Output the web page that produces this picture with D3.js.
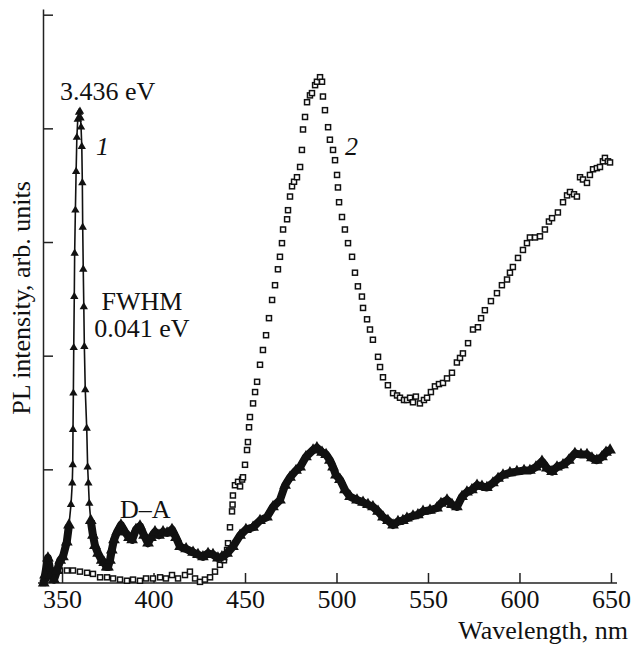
<!DOCTYPE html>
<html>
<head>
<meta charset="utf-8">
<script src="https://cdn.jsdelivr.net/npm/d3@7"></script>
<style>
  body { margin: 0; background: #fff; }
  text { font-family: "Liberation Serif", "Times New Roman", serif; fill: #111; }
</style>
</head>
<body>
<div id="chart"></div>
<script>
const width = 632, height = 645;
const margin = { top: 9, right: 15, bottom: 62, left: 43 };

// curve 1: wavelength (nm) and PL intensity (arb. units), triangles
const wl1 = [340, 340.7, 342.3, 344, 345.6, 347.3, 349, 350.5, 352.6, 353.8, 354.9, 355.6,
  355.85, 356.0, 356.2, 356.4, 356.7, 356.9, 357.3, 357.7, 358.1, 358.6, 359.3, 359.8, 360.1,
  360.4, 360.8, 361.1, 361.3, 361.6, 361.9, 362.2, 362.7, 363.5, 364.0,
  364.4, 364.9, 365.7, 366.9, 368.0, 369.7, 371.7, 373.0, 374.4, 375.1, 376.2, 377.2, 378.4,
  380.1, 382.2, 384.4, 386.6, 388.3, 390.4, 392.6, 394.8, 397.0, 398.6, 400.8, 403.0, 405.2,
  407.4, 410.1, 412.3, 414.5, 417.8, 421.6, 424.3, 427.0, 429.8, 432.5, 435.2, 437.4, 440.2,
  443.4, 447.3, 450.5, 454.4, 458.2, 462.0, 465.3, 469.1, 471.9, 474.6, 477.9, 480.1, 483.3,
  487.2, 489.3, 492.1, 494.3, 496.4, 498.1, 499.7, 501.9, 504.6, 507.4, 511.2, 514.5, 517.2,
  519.9, 522.7, 525.4, 528.1, 530.9, 533.6, 536.3, 538.5, 541.8, 544.5, 547.3, 551.1, 554.9,
  557.1, 560.4, 563.1, 565.8, 568.6, 571.3, 574.0, 576.8, 579.5, 582.2, 585.5, 588.3, 591.0,
  594.8, 598.6, 602.5, 605.7, 609.0, 612.3, 615.0, 617.8, 620.5, 623.8, 627.0, 630.3, 633.6,
  636.9, 639.6, 642.3, 645.1, 647.3, 649.5];
const pl1 = [0.00, 0.07, 0.22, 0.07, 0.03, 0.11, 0.20, 0.23, 0.36, 0.51, 0.69, 0.88,
  1.04, 1.35, 1.67, 2.07, 2.52, 2.90, 3.28, 3.62, 3.92, 4.08, 4.14, 4.15, 4.09,
  4.01, 3.84, 3.52, 3.13, 2.76, 2.43, 2.08, 1.70, 1.36, 1.02,
  0.88, 0.70, 0.55, 0.42, 0.33, 0.26, 0.20, 0.18, 0.14, 0.14, 0.20, 0.29, 0.38,
  0.45, 0.51, 0.45, 0.40, 0.38, 0.47, 0.50, 0.42, 0.35, 0.40, 0.45, 0.42, 0.45,
  0.44, 0.47, 0.40, 0.32, 0.30, 0.27, 0.25, 0.23, 0.26, 0.25, 0.22, 0.23, 0.26,
  0.32, 0.42, 0.47, 0.49, 0.55, 0.58, 0.67, 0.73, 0.86, 0.93, 0.99, 1.02, 1.11,
  1.17, 1.19, 1.15, 1.13, 1.08, 1.02, 0.95, 0.91, 0.82, 0.76, 0.73, 0.71, 0.69,
  0.67, 0.63, 0.58, 0.55, 0.51, 0.54, 0.55, 0.57, 0.59, 0.60, 0.63, 0.64, 0.66,
  0.70, 0.73, 0.69, 0.67, 0.76, 0.80, 0.82, 0.86, 0.85, 0.84, 0.88, 0.92, 0.95,
  0.97, 0.98, 0.99, 0.99, 1.02, 1.07, 1.01, 0.98, 1.02, 1.04, 1.08, 1.14, 1.13,
  1.13, 1.10, 1.08, 1.11, 1.15, 1.17];

// curve 2: open squares
const wl2 = [339.6, 341.3, 343.4, 346.2, 348.9, 352.7, 356.0, 359.8, 363.7, 366.9, 370.8,
  374.6, 377.9, 381.7, 385.5, 388.8, 392.6, 395.9, 399.7, 403.6, 406.8, 410.1, 413.4, 417.2,
  419.9, 422.7, 425.4, 428.1, 430.9, 433.6, 436.3, 438.5, 440.2, 440.7, 441.8, 442.9, 443.2,
  443.4, 444.5, 446.2, 447.3, 448.4, 448.9, 450.0, 451.1, 451.6, 452.2, 452.7, 454.4, 455.5,
  456.6, 458.2, 459.8, 461.5, 463.1, 464.8, 466.4, 468.0, 469.1, 470.2, 470.8, 473.0, 473.5,
  474.6, 475.7, 476.8, 478.4, 480.1, 481.1, 481.7, 482.8, 483.9, 485.5, 486.6, 488.3, 489.3,
  491.0, 492.1, 492.6, 493.7, 495.4, 496.4, 498.1, 499.2, 500.3, 500.8, 501.4, 503.0, 504.6,
  506.3, 508.5, 510.1, 511.7, 513.9, 514.5, 516.7, 518.3, 519.9, 522.7, 523.8, 525.4, 528.1,
  530.9, 533.1, 534.7, 536.9, 538.5, 540.2, 541.8, 543.4, 545.6, 547.8, 549.5, 551.6, 553.8,
  556.0, 558.2, 560.4, 563.1, 565.8, 567.5, 569.1, 571.9, 574.6, 577.3, 579.0, 581.1, 584.4,
  587.7, 590.4, 593.2, 594.8, 596.4, 599.2, 601.9, 604.1, 605.7, 608.5, 611.2, 613.9, 616.1,
  617.8, 621.0, 623.8, 626.0, 627.6, 629.8, 631.4, 633.1, 634.7, 636.9, 638.5, 640.2, 642.3,
  644.0, 645.6, 646.7, 648.4, 649.5];
const pl2 = [0.00, 0.04, 0.08, 0.10, 0.11, 0.11, 0.11, 0.10, 0.09, 0.08, 0.05,
  0.05, 0.04, 0.03, 0.02, 0.03, 0.02, 0.04, 0.04, 0.05, 0.04, 0.07, 0.04, 0.07,
  0.10, 0.04, 0.01, 0.03, 0.05, 0.10, 0.16, 0.20, 0.29, 0.35, 0.49, 0.63, 0.69,
  0.77, 0.86, 0.89, 0.85, 0.91, 0.93, 1.04, 1.17, 1.24, 1.37, 1.46, 1.58, 1.68,
  1.77, 1.92, 2.05, 2.18, 2.33, 2.49, 2.62, 2.76, 2.87, 2.99, 3.11, 3.20, 3.28,
  3.40, 3.49, 3.53, 3.57, 3.66, 3.81, 3.99, 4.10, 4.23, 4.29, 4.31, 4.38, 4.41,
  4.45, 4.41, 4.28, 4.16, 4.01, 3.90, 3.81, 3.72, 3.59, 3.48, 3.35, 3.22, 3.11,
  2.99, 2.87, 2.73, 2.61, 2.52, 2.42, 2.32, 2.23, 2.14, 1.99, 1.90, 1.81, 1.74,
  1.67, 1.65, 1.63, 1.61, 1.61, 1.63, 1.59, 1.64, 1.58, 1.61, 1.63, 1.68, 1.73,
  1.75, 1.76, 1.80, 1.85, 1.94, 1.98, 2.02, 2.11, 2.23, 2.25, 2.33, 2.40, 2.48,
  2.55, 2.62, 2.67, 2.73, 2.78, 2.86, 2.93, 2.99, 3.04, 3.04, 3.05, 3.11, 3.18,
  3.21, 3.26, 3.35, 3.41, 3.44, 3.42, 3.40, 3.57, 3.55, 3.52, 3.59, 3.64, 3.65,
  3.66, 3.71, 3.74, 3.71, 3.70];

const xTicks = [350, 400, 450, 500, 550, 600, 650];
const yTicks = [1, 2, 3, 4, 5];

const svg = d3.select("#chart").append("svg")
  .attr("width", width)
  .attr("height", height);

const x = d3.scaleLinear()
  .domain([339.6, 653.3])
  .range([margin.left, width - margin.right]);

const y = d3.scaleLinear()
  .domain([0, 5.05])
  .range([height - margin.bottom, margin.top]);

// axes, ticks pointing inward
const xAxis = svg.append("g")
  .attr("transform", `translate(0,${height - margin.bottom})`)
  .call(d3.axisBottom(x).tickValues(xTicks).tickSizeInner(-10).tickSizeOuter(0).tickPadding(7))
xAxis.selectAll("text").style("font-size", "26px").style("font-family", "Liberation Serif")
xAxis.selectAll("path, line").attr("stroke", "#222").attr("stroke-width", 1.5)
xAxis.select(".domain").attr("d", `M${margin.left - 5},0H${width - margin.right}`)

const yAxis = svg.append("g")
  .attr("transform", `translate(${margin.left},0)`)
  .call(d3.axisLeft(y).tickValues(yTicks).tickSizeInner(-10).tickSizeOuter(0).tickFormat(""))
yAxis.selectAll("path, line").attr("stroke", "#222").attr("stroke-width", 1.5)

// curve 2 - open squares
const data2 = wl2.map((w, i) => [w, pl2[i]]);
svg.append("g")
  .selectAll("rect")
  .data(data2)
  .join("rect")
  .attr("x", d => x(d[0]) - 2.5)
  .attr("y", d => y(d[1]) - 2.5)
  .attr("width", 5)
  .attr("height", 5)
  .attr("fill", "white")
  .attr("stroke", "#111")
  .attr("stroke-width", 1.5);

// curve 1 - noisy band (thick) away from the sharp peak, thin line through the peak
const data1 = wl1.map((w, i) => [w, pl1[i]]);
const inPeak = d => d[0] > 354.5 && d[0] < 365;

svg.append("path")
  .attr("fill", "none")
  .attr("stroke", "#111")
  .attr("stroke-width", 8)
  .attr("stroke-linejoin", "round")
  .attr("d", d3.line().defined(d => !inPeak(d)).x(d => x(d[0])).y(d => y(d[1]))(data1));

svg.append("path")
  .datum(data1)
  .attr("fill", "none")
  .attr("stroke", "#111")
  .attr("stroke-width", 1.6)
  .attr("d", d3.line().x(d => x(d[0])).y(d => y(d[1])));

svg.append("g")
  .selectAll("path")
  .data(data1)
  .join("path")
  .attr("transform", d => `translate(${x(d[0])},${y(d[1])})`)
  .attr("d", d3.symbol().type(d3.symbolTriangle).size(d => inPeak(d) ? 30 : 60))
  .attr("fill", "#111");

// labels
const fs = "26px";
svg.append("text").attr("x", 60).attr("y", 100).text("3.436 eV").style("font-size", fs)
svg.append("text").attr("x", 96).attr("y", 155).text("1").style("font-size", fs).style("font-style", "italic")
svg.append("text").attr("x", 345).attr("y", 155).text("2").style("font-size", fs).style("font-style", "italic")
svg.append("text").attr("x", 142).attr("y", 310).text("FWHM").style("font-size", fs).style("text-anchor", "middle")
svg.append("text").attr("x", 142).attr("y", 337).text("0.041 eV").style("font-size", fs).style("text-anchor", "middle")
svg.append("text").attr("x", 120).attr("y", 518).text("D\u2013A").style("font-size", fs)

svg.append("text")
  .attr("x", width - 4)
  .attr("y", 639)
  .text("Wavelength, nm")
  .style("font-size", fs)
  .style("text-anchor", "end")

svg.append("text")
  .attr("transform", `translate(30,${298}) rotate(-90)`)
  .text("PL intensity, arb. units")
  .style("font-size", fs)
  .style("text-anchor", "middle")
</script>
</body>
</html>
